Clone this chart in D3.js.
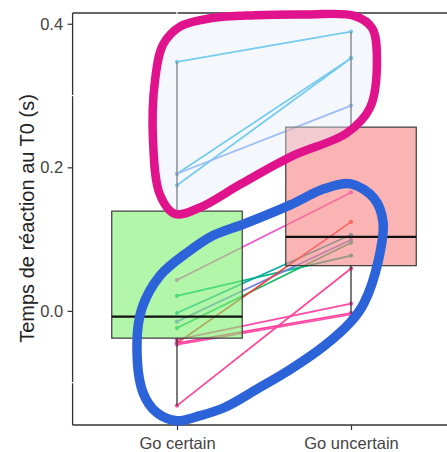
<!DOCTYPE html>
<html><head><meta charset="utf-8">
<script src="https://cdn.jsdelivr.net/npm/d3@7"></script>
<style>body{margin:0;background:#fff;}svg{display:block;font-family:"Liberation Sans",Arial,sans-serif;}</style>
</head><body>
<svg id="c" width="447" height="452"></svg>
<script>
// ---- data ----
const categories = ["Go certain", "Go uncertain"];
const yTicks = [0.0, 0.2, 0.4];
// paired subject values: [Go certain, Go uncertain]
const goCertain   = [0.347, 0.191, 0.175, 0.191, 0.043, 0.021, -0.003, -0.015, -0.024, -0.045, -0.040, -0.045, -0.047, -0.132];
const goUncertain = [0.389, 0.352, 0.352, 0.286, 0.165, 0.077, 0.106, 0.099, 0.095, 0.124, 0.010, -0.003, -0.005, 0.059];
const subjectColors = ["#2fb4e8", "#2fb4e8", "#2fb4e8", "#6f9cf0", "#f252d2", "#00b889", "#0fa9a4", "#6e86e0", "#19b86a", "#f23a33", "#ff4aa8", "#ff3d9c", "#ff50a8", "#ff4596"];
// boxplot statistics [lower whisker, q1, median, q3, upper whisker]
const boxStats = [
  [-0.132, -0.038, -0.008, 0.139, 0.347],
  [-0.004, 0.063, 0.103, 0.256, 0.389]
];
const boxFills = ["#7ff071", "#f78282"];
// hand-drawn annotation loops, in (category index, value) units
const magentaLoop = [[0.017,0.396],[0.20,0.408],[0.45,0.412],[0.75,0.413],[1.02,0.411],[1.121,0.394],[1.149,0.350],[1.109,0.283],[0.977,0.248],[0.655,0.215],[0.362,0.176],[0.132,0.144],[-0.011,0.135],[-0.098,0.162],[-0.138,0.238],[-0.126,0.322],[-0.080,0.371]];
const blueLoop = [[0.207,0.105],[0.385,0.121],[0.655,0.148],[0.845,0.170],[1.0,0.177],[1.132,0.157],[1.184,0.124],[1.155,0.068],[1.075,0.011],[1.0,-0.015],[0.845,-0.049],[0.655,-0.081],[0.460,-0.109],[0.270,-0.135],[0.132,-0.146],[0.0,-0.153],[-0.115,-0.142],[-0.195,-0.114],[-0.230,-0.045],[-0.201,0.004],[-0.098,0.049],[0.057,0.081]];

// ---- layout ----
const L = 72.6, R = 455.4, T = 13, B = 425;
const svg = d3.select("#c");
const x = d3.scalePoint().domain(categories).range([L, R]).padding(0.6);
const xu = d3.scaleLinear().domain([-0.6, 1.6]).range([L, R]);
const y = d3.scaleLinear().domain([-0.159, 0.415]).range([B, T]);

// paired lines
const g = svg.append("g");
goCertain.forEach((v, i) => {
  g.append("line").attr("x1", x(categories[0])).attr("y1", y(v))
    .attr("x2", x(categories[1])).attr("y2", y(goUncertain[i]))
    .attr("stroke", subjectColors[i]).attr("stroke-width", 1.7);
});
goCertain.forEach((v, i) => {
  g.append("circle").attr("cx", x(categories[0])).attr("cy", y(v)).attr("r", 2.1).attr("fill", subjectColors[i]);
  g.append("circle").attr("cx", x(categories[1])).attr("cy", y(goUncertain[i])).attr("r", 2.1).attr("fill", subjectColors[i]);
});

// boxplots
const hw = xu(0.375) - xu(0);
categories.forEach((c, i) => {
  const [lo, q1, med, q3, hi] = boxStats[i];
  const cx = x(c);
  g.append("line").attr("x1", cx).attr("x2", cx).attr("y1", y(q3)).attr("y2", y(hi)).attr("stroke", "#333").attr("stroke-width", 1.3);
  g.append("line").attr("x1", cx).attr("x2", cx).attr("y1", y(q1)).attr("y2", y(lo)).attr("stroke", "#333").attr("stroke-width", 1.3);
  g.append("rect").attr("x", cx - hw).attr("y", y(q3)).attr("width", 2 * hw).attr("height", y(q1) - y(q3))
    .attr("fill", boxFills[i]).attr("fill-opacity", 0.6).attr("stroke", "#3a3a3a").attr("stroke-width", 1.2);
  g.append("line").attr("x1", cx - hw).attr("x2", cx + hw).attr("y1", y(med)).attr("y2", y(med)).attr("stroke", "#111").attr("stroke-width", 2.2);
});

// axes lines
svg.append("line").attr("x1", L).attr("x2", L).attr("y1", T).attr("y2", B).attr("stroke", "#333").attr("stroke-width", 1.3);
svg.append("line").attr("x1", L).attr("x2", 447).attr("y1", B).attr("y2", B).attr("stroke", "#333").attr("stroke-width", 1.3);
svg.append("line").attr("x1", L).attr("x2", 447).attr("y1", T).attr("y2", T).attr("stroke", "#333").attr("stroke-width", 1.3);
// white grid breaks crossing the frame
[0.3, -0.1].forEach(v => svg.append("line").attr("x1", L - 1.5).attr("x2", L + 1.5).attr("y1", y(v)).attr("y2", y(v)).attr("stroke", "#fff").attr("stroke-width", 1.2));
categories.forEach(c => svg.append("line").attr("x1", x(c)).attr("x2", x(c)).attr("y1", T - 1.5).attr("y2", T + 1.5).attr("stroke", "#fff").attr("stroke-width", 1.2));

const ya = svg.append("g").attr("transform", `translate(${L},0)`)
  .call(d3.axisLeft(y).tickValues(yTicks).tickFormat(d3.format(".1f")).tickSize(5).tickPadding(4.5));
ya.select(".domain").remove();
ya.selectAll("line").attr("stroke", "#333").attr("stroke-width", 1.2);
ya.selectAll("text").attr("font-size", 16.5).attr("fill", "#444").attr("font-family", "Liberation Sans, Arial, sans-serif");

const xa = svg.append("g").attr("transform", `translate(0,${B})`)
  .call(d3.axisBottom(x).tickSize(5).tickPadding(7));
xa.select(".domain").remove();
xa.selectAll("line").attr("stroke", "#333").attr("stroke-width", 1.2);
xa.selectAll("text").attr("font-size", 16.5).attr("fill", "#444").attr("font-family", "Liberation Sans, Arial, sans-serif");

svg.append("text").attr("transform", "translate(34,218.5) rotate(-90)").attr("text-anchor", "middle")
  .attr("font-size", 20).attr("fill", "#222").text("Temps de réaction au T0 (s)");

// annotations
const loop = d3.line().x(d => xu(d[0])).y(d => y(d[1])).curve(d3.curveCatmullRomClosed.alpha(0.5));
svg.append("path").attr("d", loop(magentaLoop)).attr("fill", "rgb(228,237,247)").attr("fill-opacity", 0.4)
  .attr("stroke", "#e0128c").attr("stroke-width", 8.5).attr("stroke-linejoin", "round");
svg.append("path").attr("d", loop(blueLoop)).attr("fill", "none")
  .attr("stroke", "#2d63d9").attr("stroke-width", 9.5).attr("stroke-linejoin", "round");
</script>
</body></html>
